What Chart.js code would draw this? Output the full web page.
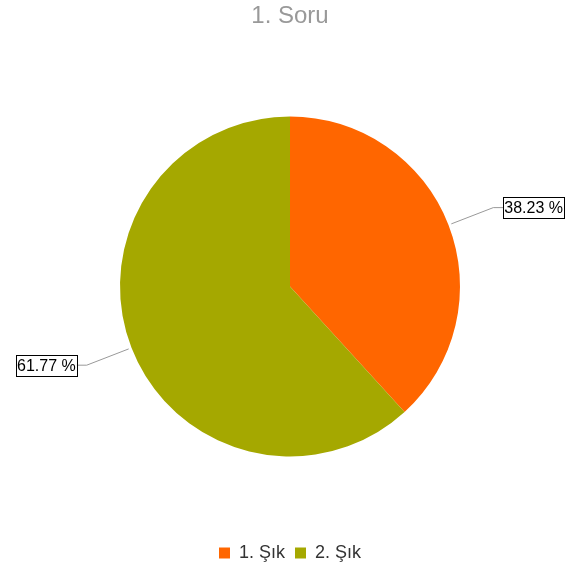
<!DOCTYPE html>
<html>
<head>
<meta charset="utf-8">
<script src="https://cdn.jsdelivr.net/npm/chart.js@4.4.1/dist/chart.umd.min.js"></script>
<style>
    html, body { margin: 0; padding: 0; background: #ffffff; }
    #wrap { width: 573px; height: 576px; }
</style>
</head>
<body>
<div id="wrap"><canvas id="pieChart" width="573" height="576"></canvas></div>
<script>
var titleText = '1. Soru';
var categories = ['1. Şık', '2. Şık'];
var percents = [38.23, 61.77];
var sliceColors = ['#FF6600', '#A5A800'];

// callout labels with leader lines, positioned from each arc
var calloutPlugin = {
    id: 'callouts',
    afterDatasetsDraw: function (chart) {
        var ctx = chart.ctx;
        var meta = chart.getDatasetMeta(0);
        ctx.save();
        ctx.font = '16px "Liberation Sans", Arial, sans-serif';
        ctx.textBaseline = 'middle';
        meta.data.forEach(function (arc, i) {
            var p = arc.getProps(['x', 'y', 'startAngle', 'endAngle', 'outerRadius'], true);
            var mid = (p.startAngle + p.endAngle) / 2;
            var cos = Math.cos(mid), sin = Math.sin(mid);
            var x0 = p.x + cos * (p.outerRadius + 3);
            var y0 = p.y + sin * (p.outerRadius + 3);
            var x1 = p.x + cos * (p.outerRadius + 48);
            var y1 = p.y + sin * (p.outerRadius + 48);
            var right = cos >= 0;
            var x2 = x1 + (right ? 10 : -10);

            ctx.strokeStyle = '#999999';
            ctx.lineWidth = 1;
            ctx.beginPath();
            ctx.moveTo(x0, y0);
            ctx.lineTo(x1, y1);
            ctx.lineTo(x2, y1);
            ctx.stroke();

            var text = percents[i].toFixed(2) + ' %';
            var w = ctx.measureText(text).width + 2;
            var h = 21;
            var bx = right ? x2 : x2 - w;
            ctx.fillStyle = '#ffffff';
            ctx.fillRect(bx, y1 - h / 2, w, h);
            ctx.strokeStyle = '#000000';
            ctx.strokeRect(Math.round(bx) + 0.5, Math.round(y1 - h / 2) + 0.5, Math.round(w), h);
            ctx.fillStyle = '#000000';
            ctx.textAlign = 'left';
            ctx.fillText(text, bx + 1, y1 + 1);
        });
        ctx.restore();
    }
};

new Chart(document.getElementById('pieChart'), {
    type: 'pie',
    data: {
        labels: categories,
        datasets: [
            {
                data: percents,
                backgroundColor: sliceColors,
                borderWidth: 0
            }
        ]
    },
    options: {
        responsive: false,
        animation: false,
        layout: {
            padding: { top: 0, bottom: 4, left: 120, right: 113 }
        },
        plugins: {
            title: {
                display: true,
                text: titleText,
                color: '#999999',
                font: { family: '"Liberation Sans", Arial, sans-serif', size: 24, weight: 'normal' },
                padding: { top: 2, bottom: 8 }
            },
            legend: {
                position: 'bottom',
                labels: {
                    boxWidth: 11,
                    boxHeight: 11,
                    padding: 10,
                    color: '#333333',
                    font: { family: '"Liberation Sans", Arial, sans-serif', size: 18 }
                }
            },
            tooltip: { enabled: false }
        }
    },
    plugins: [calloutPlugin]
});
</script>
</body>
</html>
